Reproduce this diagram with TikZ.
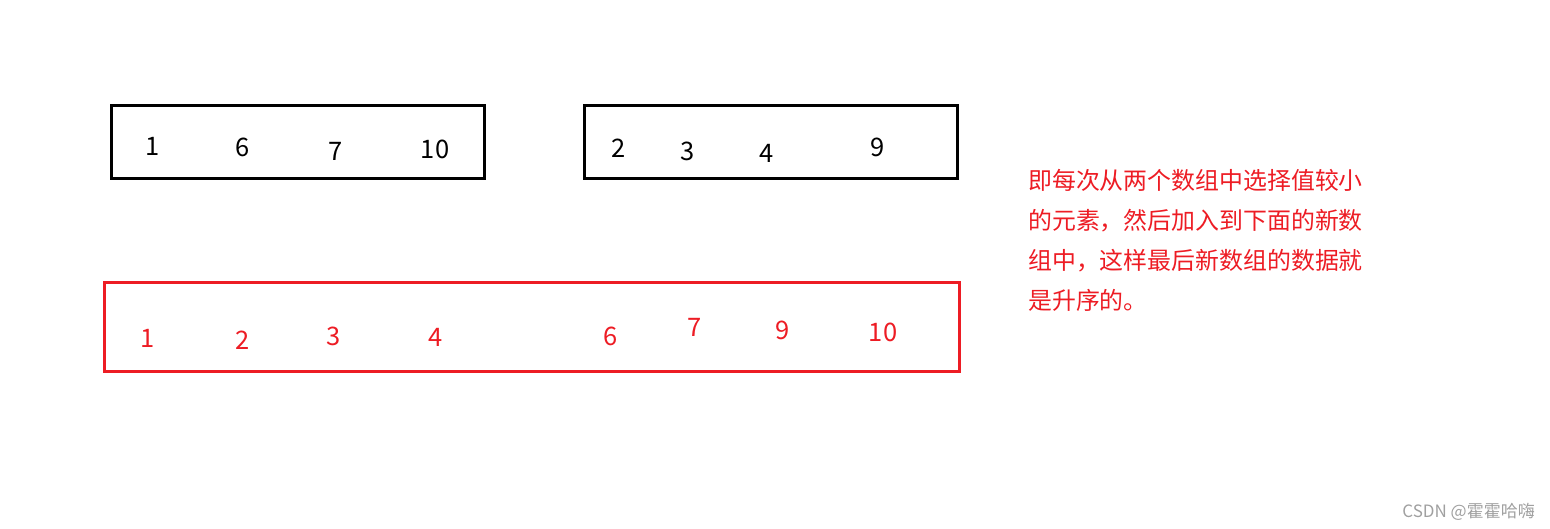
\documentclass[tikz,border=0pt]{standalone}
\usepackage{fontspec}
\setmainfont{Noto Sans CJK SC}
\definecolor{myred}{HTML}{ED1C24}
\definecolor{wmgray}{HTML}{A0A0A0}
\tikzset{
  arraybox/.style={draw=black, line width=3pt, minimum width=373pt, minimum height=73pt, inner sep=0pt},
  mergebox/.style={draw=myred, line width=3pt, minimum width=855pt, minimum height=89pt, inner sep=0pt},
  numblack/.style={text=black, font=\fontsize{25.5}{28}\selectfont, inner sep=0pt},
  numred/.style={text=myred, font=\fontsize{25.5}{28}\selectfont, inner sep=0pt},
  note/.style={text=myred, font=\fontsize{23.9}{40}\selectfont, align=left, inner sep=0pt, anchor=north west},
  wmark/.style={text=wmgray, font=\fontsize{17}{20}\selectfont, inner sep=0pt, anchor=base east}
}
\begin{document}
\begin{tikzpicture}[x=1pt,y=-1pt]
\useasboundingbox (0,0) rectangle (1550,528);
\node[arraybox] (boxa) at (298,142) {};
\node[arraybox] (boxb) at (771,142) {};
\node[mergebox] (boxc) at (532,327) {};
% first array
\node[numblack] (a1) at (153,146) {1};
\node[numblack] (a2) at (243,147) {6};
\node[numblack] (a3) at (336,151) {7};
\node[numblack] (a4) at (435,149) {10};
% second array
\node[numblack] (b1) at (619,148) {2};
\node[numblack] (b2) at (688,151) {3};
\node[numblack] (b3) at (767,153) {4};
\node[numblack] (b4) at (878,147) {9};
% merged array
\node[numred] (c1) at (148,338) {1};
\node[numred] (c2) at (243,340) {2};
\node[numred] (c3) at (334,336) {3};
\node[numred] (c4) at (436,337) {4};
\node[numred] (c5) at (611,336) {6};
\node[numred] (c6) at (695,327) {7};
\node[numred] (c7) at (783,330) {9};
\node[numred] (c8) at (883,332) {10};
% explanation
\node[note] (txt) at (1028,169) {即每次从两个数组中选择值较小\\的元素，然后加入到下面的新数\\组中，这样最后新数组的数据就\\是升序的。};
\node[wmark] (wm) at (1535,517) {CSDN @霍霍哈嗨};
\end{tikzpicture}
\end{document}
